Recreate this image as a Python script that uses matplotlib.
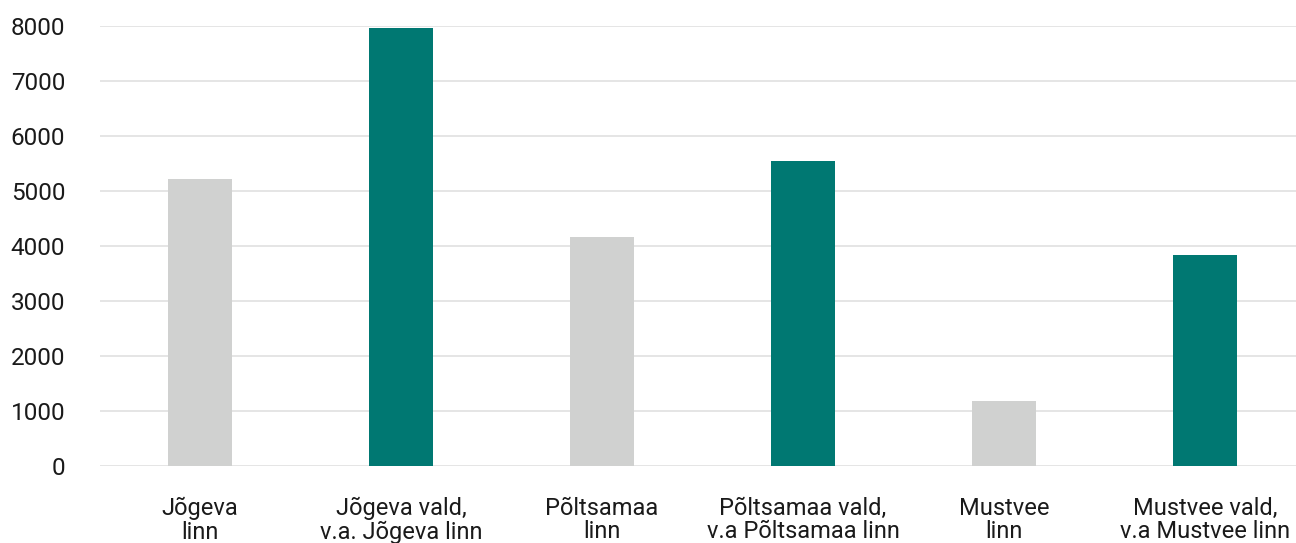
import matplotlib
matplotlib.use("Agg")
import matplotlib.pyplot as plt

categories = ["Jõgeva\nlinn", "Jõgeva vald,\nv.a. Jõgeva linn", "Põltsamaa\nlinn",
              "Põltsamaa vald,\nv.a Põltsamaa linn", "Mustvee\nlinn", "Mustvee vald,\nv.a Mustvee linn"]
values = [5220, 7965, 4165, 5545, 1180, 3835]
colors = ["#d0d1d0", "#007872", "#d0d1d0", "#007872", "#d0d1d0", "#007872"]
yticks = [0, 1000, 2000, 3000, 4000, 5000, 6000, 7000, 8000]

plt.rcParams['font.family'] = ['Roboto', 'DejaVu Sans']

fig = plt.figure(figsize=(12.96, 5.43), dpi=100)
ax = fig.add_axes([100/1296, (543-466)/543, 1 - 100/1296, (466-26)/543])

x = list(range(len(categories)))
ax.bar(x, values, width=0.318, color=colors, zorder=3)

ax.set_ylim(0, 8000)
ax.set_xlim(-0.4975, 5.453)
ax.set_yticks(yticks)
ax.set_yticklabels([str(v) for v in yticks])
ax.set_xticks(x)
ax.set_xticklabels(categories, linespacing=1.05)

ax.grid(axis='y', color='#e0e0e0', linewidth=1.2, zorder=0)
ax.set_axisbelow(True)
for s in ax.spines.values():
    s.set_visible(False)
ax.tick_params(axis='y', length=0, labelsize=17.5, colors='#1a1a1a', pad=25)
ax.tick_params(axis='x', length=0, labelsize=17, colors='#1a1a1a', pad=22)

fig.savefig("out.png", dpi=100)
